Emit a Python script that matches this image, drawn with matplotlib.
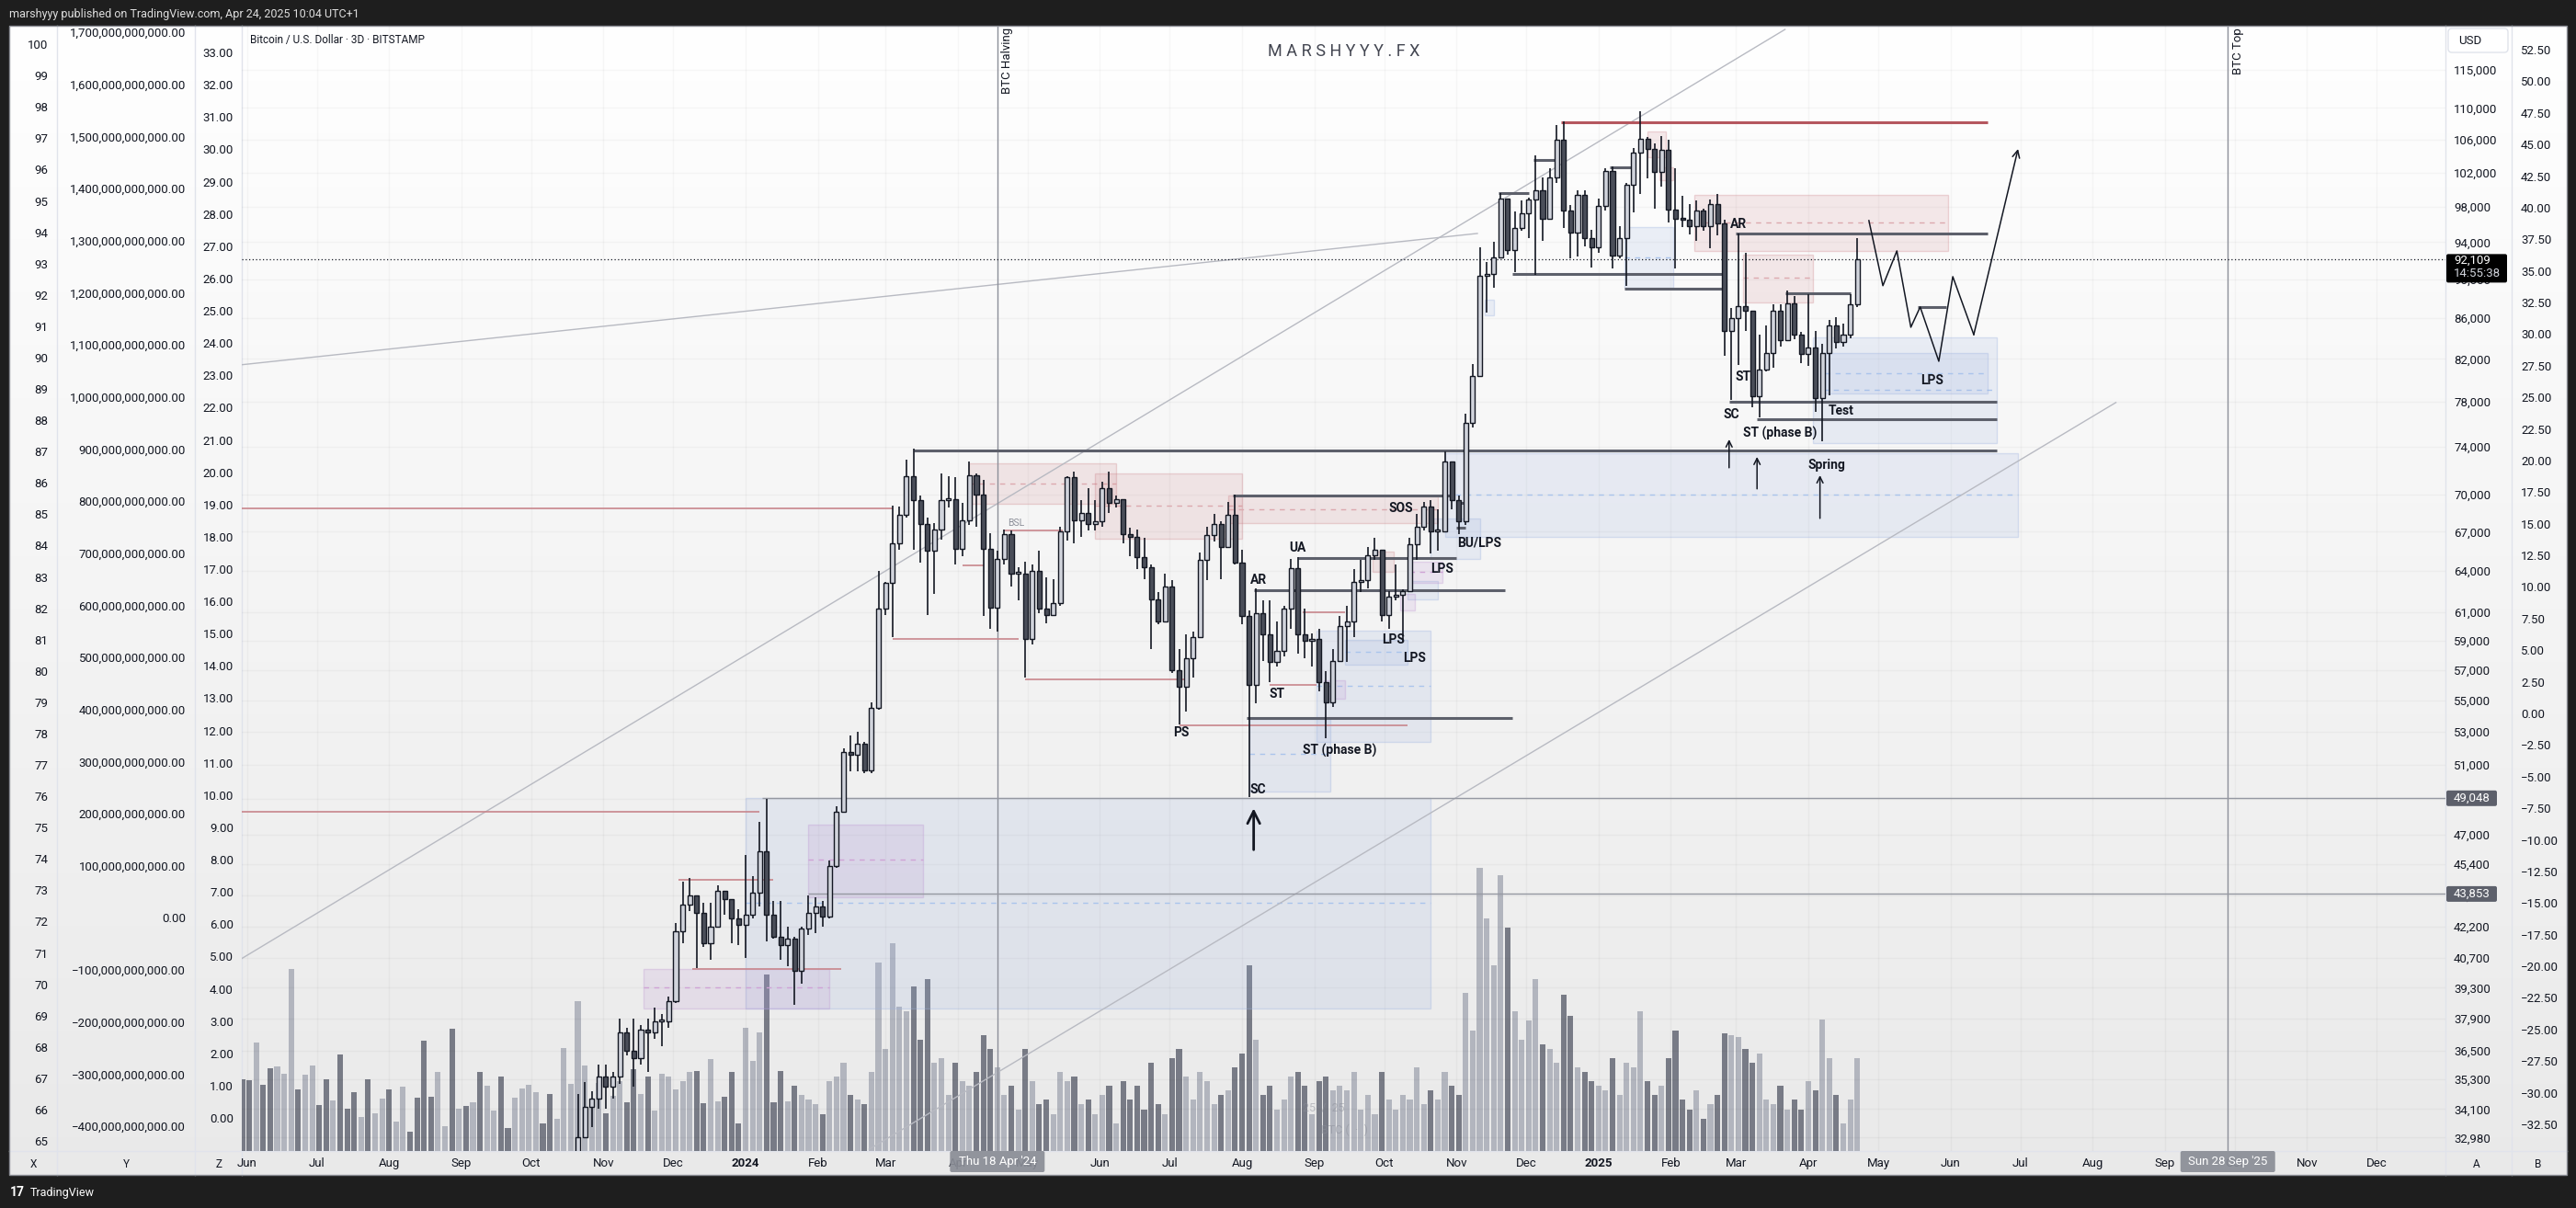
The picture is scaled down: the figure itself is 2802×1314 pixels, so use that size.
import numpy as np
import pandas as pd
import matplotlib
matplotlib.use("Agg")
import matplotlib.pyplot as plt
import matplotlib.dates as mdates
from matplotlib.patches import Rectangle, FancyBboxPatch
from matplotlib.ticker import NullLocator

plt.rcParams['font.family'] = ['Roboto', 'DejaVu Sans']

W, H = 2802, 1314

# ---------------- data ----------------
first_bar = "2023-05-30"          # 3D bars
n_bars = 232
first_visible = 46                # first candle inside the price range (2023-10-15)
first_open = 26.85                # k USD

# closes / highs / lows in k USD, one per 3D bar from 2023-10-15
closes = [28.4, 29.7, 33.0, 34.2, 34.5, 35.4, 35.0, 35.4, 37.3, 36.5,
          36.2, 37.4, 37.3, 37.8, 37.8, 38.7, 42.0, 43.3, 43.8, 42.9,
          41.4, 42.2, 44.0, 43.6, 42.6, 42.3, 42.8, 43.9, 46.1, 42.8,
          41.7, 41.3, 41.6, 40.1, 42.1, 42.9, 43.2, 42.7, 45.3, 48.3,
          51.8, 51.6, 52.3, 50.7, 54.5, 61.2, 63.1, 66.1, 68.3, 71.5,
          69.5, 67.6, 65.5, 67.2, 69.5, 69.6, 65.7, 67.9, 71.6, 70.0,
          65.7, 61.3, 64.9, 66.8, 63.8, 63.8, 59.1, 64.0, 61.2, 60.8,
          61.6, 67.0, 71.4, 67.9, 68.5, 67.6, 67.8, 70.5, 69.3, 69.6,
          66.8, 66.6, 65.0, 64.3, 61.9, 60.3, 62.8, 57.0, 55.9, 57.8,
          59.2, 64.8, 66.7, 67.6, 65.8, 68.3, 64.6, 60.7, 56.0, 60.9,
          59.4, 57.5, 58.3, 61.2, 64.2, 59.4, 59.0, 59.1, 56.2, 54.9,
          57.6, 60.0, 60.3, 63.2, 63.3, 65.2, 65.6, 60.8, 62.1, 62.2,
          62.5, 66.0, 67.4, 69.0, 67.0, 67.0, 72.7, 69.5, 67.8, 76.1,
          80.4, 90.4, 90.6, 92.3, 98.9, 93.1, 95.6, 97.2, 98.8, 99.9,
          96.6, 101.4, 106.0, 97.5, 95.1, 99.3, 94.5, 93.4, 98.1, 102.2,
          92.5, 94.5, 100.5, 104.4, 106.1, 104.8, 102.1, 104.7, 97.7, 96.6,
          96.5, 95.8, 97.5, 95.8, 98.3, 96.1, 84.7, 86.0, 87.2, 86.8,
          78.5, 81.0, 82.6, 86.8, 83.8, 87.5, 84.4, 82.5, 83.1, 78.3,
          82.6, 85.3, 83.6, 84.4, 87.4, 92.1]
highs = [30.0, 30.2, 34.7, 35.2, 34.8, 35.9, 35.9, 35.6, 37.9, 37.5,
         37.9, 37.6, 37.9, 38.4, 38.1, 38.9, 42.4, 44.5, 44.7, 43.8,
         43.4, 43.4, 44.3, 44.0, 43.6, 43.1, 45.9, 44.8, 47.7, 49.0,
         43.5, 43.5, 42.2, 41.7, 42.2, 43.8, 43.7, 43.5, 45.6, 48.6,
         52.0, 52.8, 53.0, 52.4, 54.9, 64.0, 63.2, 69.1, 69.0, 72.9,
         73.8, 69.9, 68.1, 67.7, 71.7, 71.5, 71.4, 69.3, 72.7, 71.7,
         71.2, 66.9, 65.5, 67.2, 67.1, 64.3, 64.7, 64.5, 65.5, 63.5,
         63.4, 67.4, 71.5, 71.9, 69.5, 70.5, 69.5, 71.0, 71.9, 69.9,
         69.6, 67.3, 67.2, 66.5, 64.5, 62.4, 63.8, 63.3, 58.4, 59.4,
         59.6, 65.4, 67.4, 68.4, 67.8, 69.4, 70.0, 65.6, 61.1, 62.7,
         61.8, 61.8, 60.3, 61.4, 64.9, 65.0, 61.2, 59.5, 59.8, 56.9,
         58.4, 60.7, 61.4, 64.1, 64.8, 65.8, 66.5, 65.6, 62.5, 64.5,
         62.6, 66.5, 68.4, 69.4, 69.5, 68.8, 73.6, 72.7, 69.9, 76.9,
         81.5, 93.4, 91.8, 94.0, 99.6, 98.8, 97.4, 98.7, 99.0, 104.0,
         101.4, 102.5, 107.8, 108.3, 98.2, 99.9, 99.9, 95.4, 98.9, 102.5,
         102.7, 95.8, 100.7, 105.0, 109.6, 106.3, 105.5, 106.4, 106.0, 102.5,
         99.2, 98.3, 98.7, 97.8, 98.8, 99.5, 96.5, 87.0, 95.0, 92.8,
         86.8, 84.4, 85.3, 87.4, 87.4, 88.8, 88.3, 84.6, 88.5, 84.7,
         83.5, 85.8, 86.1, 85.5, 88.5, 94.5]
lows = [26.8, 28.1, 29.5, 33.2, 33.4, 34.1, 34.1, 34.5, 35.1, 36.3,
        35.0, 35.9, 35.6, 37.0, 36.7, 37.5, 38.6, 41.4, 43.0, 40.2,
        41.2, 40.6, 42.2, 42.8, 41.4, 41.3, 40.7, 42.6, 43.2, 41.5,
        41.6, 40.6, 40.3, 38.5, 39.5, 41.8, 41.9, 42.2, 42.6, 45.2,
        48.3, 50.6, 50.6, 50.5, 50.5, 54.4, 60.8, 59.2, 65.6, 68.1,
        65.6, 64.6, 60.8, 62.3, 66.4, 68.9, 64.5, 65.1, 67.5, 67.4,
        60.7, 59.8, 59.6, 64.5, 62.8, 61.8, 56.5, 58.7, 60.9, 60.2,
        60.7, 61.4, 66.3, 66.1, 66.6, 67.1, 67.1, 67.4, 68.5, 68.9,
        66.1, 65.1, 64.1, 63.4, 58.4, 60.1, 60.4, 56.8, 53.5, 54.3,
        56.5, 59.2, 63.3, 66.2, 63.4, 65.8, 64.5, 60.1, 49.1, 54.8,
        57.6, 56.2, 57.2, 57.9, 59.8, 58.1, 57.8, 57.2, 55.6, 52.6,
        54.6, 57.6, 57.5, 59.2, 62.4, 62.7, 64.8, 60.3, 59.8, 61.8,
        58.9, 62.4, 64.8, 67.1, 65.3, 65.5, 67.0, 68.8, 66.8, 67.5,
        75.7, 80.3, 86.6, 89.1, 92.3, 92.6, 90.8, 95.3, 94.5, 90.5,
        94.1, 96.5, 100.8, 95.6, 92.2, 92.4, 93.5, 91.3, 92.8, 97.6,
        91.2, 92.2, 89.3, 97.3, 99.5, 101.3, 97.8, 100.3, 96.2, 91.2,
        95.7, 94.9, 94.1, 95.3, 93.3, 94.8, 82.3, 78.2, 81.4, 84.7,
        77.5, 76.6, 80.8, 81.2, 83.2, 83.8, 83.9, 81.6, 81.3, 77.1,
        74.5, 78.6, 83.0, 83.2, 84.0, 87.1]

# volume (relative units), every 3D bar from 2023-05-30
volume = [77, 76, 117, 71, 89, 91, 83, 196, 66, 82,
          92, 49, 77, 54, 104, 46, 63, 37, 77, 41,
          56, 66, 32, 69, 21, 57, 119, 58, 85, 27,
          132, 46, 48, 52, 85, 70, 44, 80, 25, 57,
          67, 71, 63, 30, 61, 35, 111, 72, 161, 92,
          51, 73, 41, 59, 75, 52, 88, 61, 80, 44,
          83, 80, 66, 75, 85, 86, 51, 99, 53, 58,
          85, 30, 133, 97, 128, 190, 52, 86, 53, 70,
          60, 55, 50, 40, 75, 80, 95, 60, 55, 50,
          85, 203, 110, 224, 155, 150, 177, 120, 185, 95,
          100, 60, 95, 75, 70, 85, 125, 110, 90, 60,
          70, 45, 110, 75, 50, 55, 40, 85, 75, 80,
          50, 55, 40, 60, 70, 30, 75, 55, 70, 45,
          95, 50, 40, 100, 110, 80, 55, 85, 75, 50,
          60, 65, 90, 105, 200, 120, 60, 70, 45, 55,
          80, 85, 70, 40, 75, 80, 65, 70, 65, 85,
          45, 60, 40, 85, 55, 45, 60, 55, 90, 50,
          65, 55, 85, 70, 60, 170, 130, 305, 250, 200,
          297, 240, 150, 120, 140, 185, 115, 110, 95, 168,
          145, 90, 85, 75, 70, 65, 100, 60, 95, 90,
          150, 75, 60, 70, 100, 130, 55, 45, 65, 35,
          50, 60, 127, 125, 123, 110, 95, 105, 55, 50,
          70, 45, 55, 45, 75, 65, 141, 100, 60, 30,
          55, 100]
# up/down of the bars that sit below the visible price range
early_up = [0, 0, 1, 0, 0, 1, 1, 1, 0, 1, 1, 0, 0, 1, 0, 0, 0, 1, 0, 1,
            1, 0, 1, 1, 0, 0, 0, 0, 1, 1, 0, 1, 0, 1, 0, 1, 1, 0, 0, 1,
            1, 1, 1, 0, 0, 1]

price_ticks = [115000, 110000, 106000, 102000, 98000, 94000, 90000, 86000,
               82000, 78000, 74000, 70000, 67000, 64000, 61000, 59000, 57000,
               55000, 53000, 51000, 49000, 47000, 45400, 43800, 42200, 40700,
               39300, 37900, 36500, 35300, 34100, 32980]
last_price = 92109
marked_prices = [49048, 43853]
halving_day = "2024-04-18"
top_day = "2025-09-28"

# zones: start, end, low, high, dashed mid (or None)
blue_zones = [("2024-01-01", "2024-10-21", 38370, 49048, 43380),
              ("2024-08-04", "2024-09-08", 49450, 53830, 51670),
              ("2024-09-02", "2024-10-21", 52400, 59650, 55960),
              ("2024-09-14", "2024-10-11", 57350, 59040, 58230),
              ("2024-10-11", "2024-10-24", 61900, 63250, None),
              ("2024-10-21", "2024-11-11", 64910, 68040, None),
              ("2024-10-27", "2025-06-30", 66600, 73440, 69980),
              ("2024-11-13", "2024-11-17", 86300, 87840, None),
              ("2025-01-12", "2025-02-02", 89080, 95680, 92350),
              ("2025-04-03", "2025-06-21", 74310, 84100, 79100),
              ("2025-04-08", "2025-06-17", 78760, 82580, 80650)]
red_zones = [("2024-04-06", "2024-06-08", 69230, 72590, 70890),
             ("2024-05-30", "2024-08-01", 66460, 71730, 69080),
             ("2024-07-26", "2024-10-24", 67640, 69910, 68780),
             ("2024-09-26", "2024-10-05", 63940, 65470, None),
             ("2025-02-11", "2025-05-31", 93050, 99360, 96200),
             ("2025-03-04", "2025-04-03", 87620, 92650, 90200),
             ("2025-01-22", "2025-01-30", 103840, 107010, None),
             ("2025-01-27", "2025-02-02", 101080, 102610, None)]
purple_zones = [("2023-11-18", "2024-02-06", 38370, 40180, 39300),
                ("2024-01-28", "2024-03-17", 43700, 47565, 45670),
                ("2024-09-05", "2024-09-14", 55120, 56320, None),
                ("2024-10-12", "2024-10-26", 63110, 64690, 63900),
                ("2024-10-08", "2024-10-14", 61110, 62310, None)]

# horizontal levels: start, end, price
dark_levels = [("2024-03-13", "2025-06-21", 73680), ("2024-07-28", "2024-10-31", 69910),
               ("2024-08-25", "2024-11-01", 64980), ("2024-08-06", "2024-11-22", 62570),
               ("2024-08-03", "2024-11-25", 53890), ("2024-12-04", "2024-12-13", 103500),
               ("2024-11-19", "2024-12-02", 99570), ("2025-01-06", "2025-01-15", 102610),
               ("2024-11-25", "2025-02-23", 90590), ("2025-01-12", "2025-02-23", 89040),
               ("2025-03-01", "2025-06-17", 94970), ("2025-02-26", "2025-06-21", 78000),
               ("2025-03-10", "2025-06-21", 76430), ("2025-03-22", "2025-04-19", 88550),
               ("2025-05-18", "2025-05-30", 87140), ("2024-11-01", "2024-11-05", 69300),
               ("2024-11-01", "2024-11-05", 67320)]
red_levels = [("2023-05-28", "2024-01-07", 48290), ("2023-05-28", "2024-03-04", 68860),
              ("2023-12-03", "2024-01-13", 44590), ("2023-12-09", "2024-02-11", 40180),
              ("2024-03-04", "2024-04-27", 59110), ("2024-04-03", "2024-04-12", 64410),
              ("2024-04-21", "2024-05-16", 67100), ("2024-04-30", "2024-07-07", 56380),
              ("2024-07-05", "2024-10-11", 53430), ("2024-08-27", "2024-09-14", 60980),
              ("2024-08-13", "2024-09-02", 56020)]
top_level = ("2024-12-16", "2025-06-17", 108160)
gray_levels = [("2024-01-08", 49048), ("2024-01-28", 43853)]

trend_lines = [(("2023-05-29", 40610), ("2025-03-22", 120570)),
               (("2023-05-29", 81430), ("2024-11-10", 94970)),
               (("2024-02-23", 32530), ("2025-08-11", 77930))]

path_days = ["2025-04-27", "2025-05-03", "2025-05-09", "2025-05-15", "2025-05-19",
             "2025-05-27", "2025-06-02", "2025-06-11", "2025-06-30"]
path_prices = [96410, 89340, 93050, 85100, 87140, 81780, 90290, 84370, 104840]

arrows = [("2025-02-26", 72200, 74640), ("2025-03-10", 70440, 73130),
          ("2025-04-06", 68050, 71570)]
big_arrow = ("2024-08-06", 46180, 48470)

wyckoff = [("PS", "2024-07-06", 52940), ("SC", "2024-08-08", 49560),
           ("AR", "2024-08-08", 63320), ("ST", "2024-08-16", 55400),
           ("UA", "2024-08-25", 65740), ("ST (phase B)", "2024-09-12", 51860),
           ("LPS", "2024-10-05", 59040), ("LPS", "2024-10-14", 57790),
           ("LPS", "2024-10-26", 64140), ("SOS", "2024-10-08", 68850),
           ("BU/LPS", "2024-11-11", 66140), ("AR", "2025-03-02", 96040),
           ("ST", "2025-03-04", 80300), ("SC", "2025-02-27", 76840),
           ("ST (phase B)", "2025-03-20", 75120), ("Test", "2025-04-15", 77170),
           ("Spring", "2025-04-09", 72450), ("LPS", "2025-05-24", 79960)]

x_scale = list(range(65, 101))
y_scale = [v * 1e11 for v in range(-4, 18)]
z_scale = list(range(0, 34))
b_scale = [v * 2.5 for v in range(-13, 22)]

# ---------------- figure ----------------
fig = plt.figure(figsize=(W / 100, H / 100), dpi=100)
fig.patch.set_facecolor('#1e1e1e')


def frac(x0, y0, x1, y1):
    return [x0 / W, 1 - y1 / H, (x1 - x0) / W, (y1 - y0) / H]


def dnum(s):
    return mdates.datestr2num(s)


bg = fig.add_axes([0, 0, 1, 1])
grad = np.linspace(1.0, 0.915, 256)[:, None].repeat(2, axis=1)
bg.imshow(np.dstack([grad] * 3), extent=(10, 2792, 1278, 28), aspect='auto',
          interpolation='bicubic', zorder=0)
bg.set_xlim(0, W)
bg.set_ylim(H, 0)
bg.axis('off')

for xs in [62, 212, 263, 2660, 2732]:
    bg.plot([xs, xs], [28, 1278], color='#e0e3eb', lw=1, zorder=1)
bg.plot([10, 2792], [1252, 1252], color='#e0e3eb', lw=1, zorder=1)
bg.add_patch(Rectangle((10, 28), 2782, 1250, fill=False, ec='#8a8d94', lw=1, zorder=1))

bg.text(10, 15, "marshyyy published on TradingView.com, Apr 24, 2025 10:04 UTC+1",
        color='#dedede', fontsize=9, va='center')
bg.text(11, 1297, "17", color='white', fontsize=10, fontweight='bold', va='center')
bg.text(33, 1297, "TradingView", color='white', fontsize=9, va='center')
bg.text(272, 43, "Bitcoin / U.S. Dollar \u00b7 3D \u00b7 BITSTAMP", color='#131722',
        fontsize=8.5, va='center')
bg.text(1462, 56, "M A R S H Y Y Y . F X", color='#434651', fontsize=13,
        ha='center', va='center')
for lab, xx in [("X", 36), ("Y", 137), ("Z", 238), ("A", 2694), ("B", 2761)]:
    bg.text(xx, 1266, lab, color='#131722', fontsize=8.5, ha='center', va='center')

chart = frac(263, 28, 2660, 1252)
vax = fig.add_axes(chart)
ax = fig.add_axes(chart, sharex=vax)
for a in (vax, ax):
    a.set_facecolor('none')
    for s in a.spines.values():
        s.set_visible(False)

jan24 = dnum("2024-01-01")
ax.set_xlim(jan24 - 216.2, jan24 + 729.4)
ax.set_yscale('log')
ax.set_ylim(32464, 121092)

dates = pd.date_range(first_bar, periods=n_bars, freq='3D')
xnum = mdates.date2num(dates.to_pydatetime())

# volume
c = np.array(closes) * 1000
o = np.concatenate([[first_open * 1000], c[:-1]])
hi = np.array(highs) * 1000
lo = np.array(lows) * 1000
up = c >= o
vol_up = [bool(u) for u in early_up] + list(up)
vax.bar(xnum, volume, width=2.4, color=['#b2b5be' if u else '#787b86' for u in vol_up],
        zorder=1)
vax.set_ylim(0, max(volume) * 3.97)
vax.tick_params(left=False, labelleft=False, bottom=False, labelbottom=False)

# grid + ticks
ax.yaxis.tick_right()
ax.set_yticks(price_ticks)
ax.set_yticklabels([f"{v:,}" for v in price_ticks])
ax.yaxis.set_minor_locator(NullLocator())
ax.tick_params(axis='y', length=0, pad=6.5, labelsize=9.5, labelcolor='#131722')
months = pd.date_range("2023-06-01", "2025-12-01", freq='MS')
ax.set_xticks(mdates.date2num(months.to_pydatetime()))
ax.set_xticklabels([str(m.year) if m.month == 1 else m.strftime('%b') for m in months])
for t, m in zip(ax.get_xticklabels(), months):
    if m.month == 1:
        t.set_fontweight('bold')
ax.tick_params(axis='x', length=0, pad=5, labelsize=9.5, labelcolor='#131722')
ax.set_axisbelow(True)
ax.grid(True, color='#000000', alpha=0.03, lw=1)


def zone(z, face, edge, midc):
    x0, x1 = dnum(z[0]), dnum(z[1])
    ax.add_patch(Rectangle((x0, z[2]), x1 - x0, z[3] - z[2], facecolor=face,
                           edgecolor=edge, lw=1, zorder=2))
    if z[4]:
        ax.hlines(z[4], x0, x1, colors=midc, linestyles=(0, (4, 4)), lw=1, zorder=2)


for z in blue_zones:
    zone(z, (0.62, 0.70, 0.88, 0.18), (0.62, 0.70, 0.88, 0.35), '#aac4ec')
for z in red_zones:
    zone(z, (0.80, 0.50, 0.53, 0.16), (0.80, 0.50, 0.53, 0.30), '#dca9ae')
for z in purple_zones:
    zone(z, (0.70, 0.50, 0.80, 0.14), (0.70, 0.50, 0.80, 0.25), '#cfa3d6')

for a_, b_ in trend_lines:
    ax.plot([dnum(a_[0]), dnum(b_[0])], [a_[1], b_[1]], color='#b8bac2', lw=1, zorder=2)

ax.axvline(dnum(halving_day), color='#8c8f99', lw=1, zorder=2)
ax.axvline(dnum(top_day), color='#8c8f99', lw=1, zorder=2)
ax.axhline(last_price, color='#131722', lw=0.9, ls=(0, (1, 2)), zorder=3)
for s, p in gray_levels:
    ax.hlines(p, dnum(s), ax.get_xlim()[1], colors='#9598a1', lw=1, zorder=2)
for s, e, p in red_levels:
    ax.hlines(p, dnum(s), dnum(e), colors='#c8868c', lw=1.2, zorder=3)
ax.hlines(top_level[2], dnum(top_level[0]), dnum(top_level[1]), colors='#b5575f', lw=2.2,
          zorder=3)
for s, e, p in dark_levels:
    ax.hlines(p, dnum(s), dnum(e), colors='#5d606b', lw=2.2, zorder=3)

# candles
cx = xnum[first_visible:]
body_lo = np.minimum(o, c)
body_hi = np.maximum(np.maximum(o, c), body_lo * 1.002)
ax.vlines(cx, lo, hi, color='#131722', lw=1.2, zorder=4)
ax.bar(cx, body_hi - body_lo, bottom=body_lo, width=2.0,
       color=np.where(up, '#d1d4dc', '#4a4e59'), edgecolor='#131722', linewidth=1, zorder=5)

# projection path + arrows
pd_num = [dnum(d) for d in path_days]
ax.plot(pd_num[:-1], path_prices[:-1], color='#131722', lw=1.1, zorder=6)
ax.annotate('', xy=(pd_num[-1], path_prices[-1]), xytext=(pd_num[-2], path_prices[-2]),
            arrowprops=dict(arrowstyle='->', color='#131722', lw=1.1, mutation_scale=14,
                            shrinkA=0, shrinkB=0), zorder=6)
for d, p0, p1 in arrows:
    ax.annotate('', xy=(dnum(d), p1), xytext=(dnum(d), p0),
                arrowprops=dict(arrowstyle='->', color='#131722', lw=1.1, mutation_scale=12,
                                shrinkA=0, shrinkB=0), zorder=6)
ax.annotate('', xy=(dnum(big_arrow[0]), big_arrow[2]), xytext=(dnum(big_arrow[0]), big_arrow[1]),
            arrowprops=dict(arrowstyle='->', color='#131722', lw=2, mutation_scale=24,
                            shrinkA=0, shrinkB=0), zorder=6)

for txt, d, p in wyckoff:
    ax.text(dnum(d), p, txt, ha='center', va='center', fontsize=10, fontweight='bold',
            color='#131722', zorder=7)
ax.text(dnum("2024-04-26"), 67670, "BSL", ha='center', va='center', fontsize=7.5,
        color='#8c8f99', zorder=7)


# side scales
def scale_col(x0, x1, lims, ticks, labels, side, label_x):
    a = fig.add_axes(frac(x0, 28, x1, 1252))
    a.set_facecolor('none')
    a.set_ylim(*lims)
    a.set_xticks([])
    for s in a.spines.values():
        s.set_visible(False)
    a.set_yticks(ticks)
    a.set_yticklabels(labels)
    if side == 'left':
        pad = -(label_x - x0) * 0.72
    else:
        a.yaxis.tick_right()
        pad = -(x1 - label_x) * 0.72
    a.tick_params(axis='y', length=0, pad=pad, labelsize=9.5, labelcolor='#131722')


def signed(v, fmt):
    s = format(abs(v), fmt)
    return ('\u2212' + s) if v < 0 else s


scale_col(10, 62, (64.68, 100.59), x_scale, [str(v) for v in x_scale], 'left', 52)
scale_col(62, 212, (-4.4765e11, 1.71235e12), y_scale, [signed(v, ',.2f') for v in y_scale],
          'left', 202)
scale_col(212, 263, (-1.025, 33.83), z_scale, [f"{v:.2f}" for v in z_scale], 'left', 254)
scale_col(2732, 2792, (-34.61, 54.39), b_scale, [signed(v, '.2f') for v in b_scale],
          'right', 2742)

# overlay layer for the price / time markers on the scales
fig.canvas.draw()
top = fig.add_axes([0, 0, 1, 1])
top.set_xlim(0, W)
top.set_ylim(H, 0)
top.axis('off')
top.patch.set_visible(False)


def py(p):
    return H - ax.transData.transform((ax.get_xlim()[0], p))[1]


def px(d):
    return ax.transData.transform((dnum(d), ax.get_ylim()[0]))[0]


top.add_patch(FancyBboxPatch((2663, 31), 65, 26, boxstyle='round,pad=0,rounding_size=4',
                             fc='white', ec='#e0e3eb', lw=1, zorder=3))
top.text(2674, 44, "USD", fontsize=9.5, color='#131722', va='center', zorder=4)

yl = py(last_price)
top.add_patch(FancyBboxPatch((2661, yl - 6), 66, 31, boxstyle='round,pad=0,rounding_size=2',
                             fc='black', ec='none', zorder=3))
top.text(2669, yl + 1, f"{last_price:,}", fontsize=9.5, color='white', va='center', zorder=4)
top.text(2669, yl + 15, "14:55:38", fontsize=9.5, color='#d1d4dc', va='center', zorder=4)
for p in marked_prices:
    yp = py(p)
    top.add_patch(FancyBboxPatch((2661, yp - 8.5), 55, 17, boxstyle='round,pad=0,rounding_size=2',
                                 fc='#5d606b', ec='none', zorder=3))
    top.text(2669, yp, f"{p:,}", fontsize=9.5, color='white', va='center', zorder=4)

for d, lab in [(halving_day, "Thu 18 Apr '24"), (top_day, "Sun 28 Sep '25")]:
    xd = px(d)
    top.add_patch(FancyBboxPatch((xd - 51.5, 1252), 103, 23, boxstyle='round,pad=0,rounding_size=2',
                                 fc='#8a8d96', ec='none', alpha=0.92, zorder=3))
    top.text(xd, 1264, lab, fontsize=9.5, color='white', ha='center', va='center', zorder=4)
top.text(px(halving_day) + 11, 30, "BTC Halving", rotation=90, fontsize=9.5, color='#131722',
         ha='center', va='top', zorder=4)
top.text(px(top_day) + 11, 30, "BTC Top", rotation=90, fontsize=9.5, color='#131722',
         ha='center', va='top', zorder=4)
top.text(1440, 1205, "25  /  25", fontsize=9, color='#8c8f99', alpha=0.5, ha='center',
         va='center', zorder=4)
top.text(1462, 1229, "BTC (  \u00b7  )", fontsize=9, color='#8c8f99', alpha=0.5, ha='center',
         va='center', zorder=4)

fig.savefig("out.png", dpi=100, facecolor=fig.get_facecolor())
